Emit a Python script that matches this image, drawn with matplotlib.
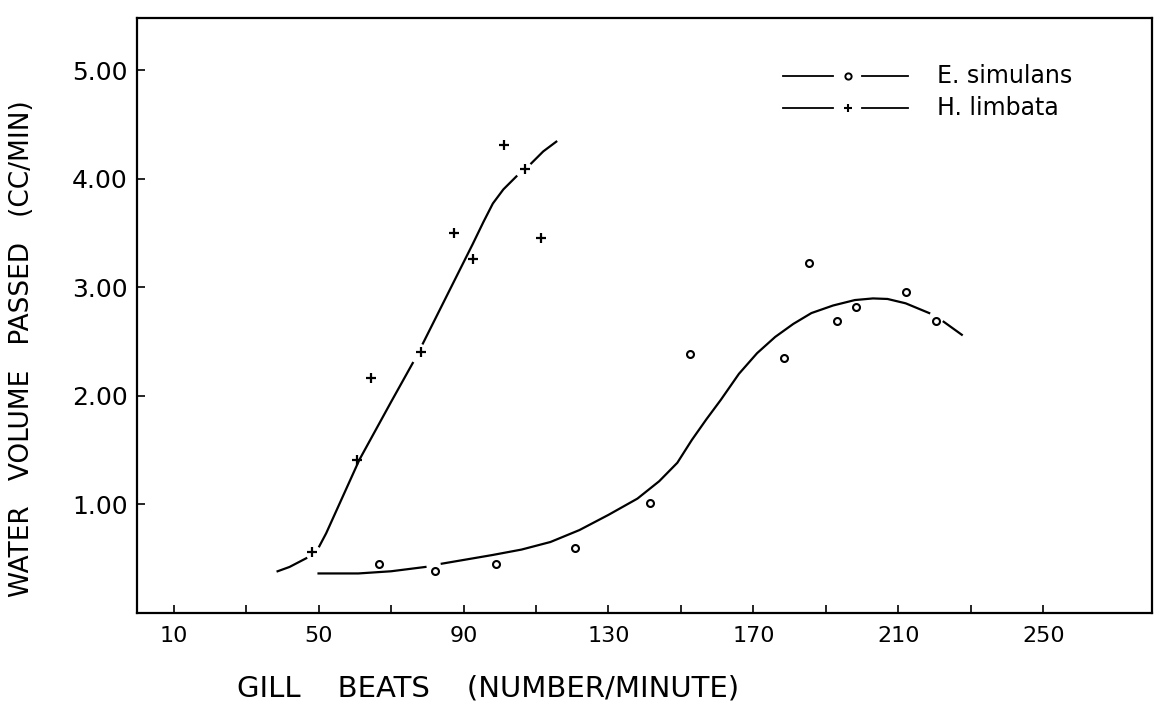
import matplotlib
matplotlib.use("Agg")
import matplotlib.pyplot as plt
import numpy as np

nan = np.nan

# E. simulans observations
e_x = [66.6, 82.2, 99.0, 120.9, 141.4, 152.5, 178.5, 185.4, 193.1, 198.3, 212.1, 220.3]
e_y = [0.45, 0.38, 0.45, 0.59, 1.01, 2.38, 2.35, 3.22, 2.69, 2.82, 2.95, 2.69]

# H. limbata observations
h_x = [48.3, 60.5, 64.6, 78.4, 87.5, 92.5, 101.1, 106.9, 111.3]
h_y = [0.56, 1.41, 2.16, 2.40, 3.50, 3.26, 4.31, 4.09, 3.45]

# hand-fitted curves (nan = break in the drawn line)
e_curve_x = [50, 61, 70, 79.5, nan, 84, 98, 106, 114, 122, 130, 138, 144, 149, 153,
             157, 161, 166, 171, 176, 181, 186, 192, 198, 203, 207, 212, 218.5, nan,
             222.5, 227.5]
e_curve_y = [0.36, 0.36, 0.38, 0.42, nan, 0.45, 0.53, 0.58, 0.65, 0.76, 0.90, 1.05,
             1.21, 1.38, 1.59, 1.78, 1.96, 2.20, 2.39, 2.54, 2.66, 2.76, 2.83, 2.88,
             2.895, 2.89, 2.85, 2.76, nan, 2.68, 2.56]

h_curve_x = [38.7, 42, 46.6, nan, 50.2, 52.1, 61.3, 70, 76.0, nan, 78.8, 86, 92.6,
             95.5, 98.1, 101, 104.6, nan, 108.7, 112, 115.6]
h_curve_y = [0.38, 0.42, 0.50, nan, 0.61, 0.73, 1.41, 1.94, 2.30, nan, 2.48, 2.96,
             3.40, 3.60, 3.77, 3.90, 4.02, nan, 4.14, 4.25, 4.34]

x_ticks = list(range(10, 251, 20))
x_labels = [str(v) if (v - 10) % 40 == 0 else "" for v in x_ticks]
y_ticks = [1, 2, 3, 4, 5]
y_labels = ["1.00", "2.00", "3.00", "4.00", "5.00"]

plt.rcParams["font.family"] = ["DejaVu Sans"]

fig = plt.figure(figsize=(11.61, 7.05), dpi=100)
ax = fig.add_axes([0.1183, 0.1312, 0.874, 0.8433])

ax.plot(e_curve_x, e_curve_y, color="black", lw=1.6, solid_joinstyle="round")
ax.plot(h_curve_x, h_curve_y, color="black", lw=1.6, solid_joinstyle="round")
ax.plot(e_x, e_y, "o", ms=5, mfc="white", mec="black", mew=1.5, ls="none")
ax.plot(h_x, h_y, "+", ms=7, mec="black", mew=1.6, ls="none")

ax.set_xlim(0, 280)
ax.set_ylim(0, 5.48)
ax.set_xticks(x_ticks)
ax.set_xticklabels(x_labels, fontsize=16)
ax.set_yticks(y_ticks)
ax.set_yticklabels(y_labels, fontsize=18)
ax.tick_params(direction="in", length=6, width=1.2, pad=10)
ax.tick_params(axis="y", pad=7)
for s in ax.spines.values():
    s.set_linewidth(1.6)

# legend drawn by hand, like the original
tr = ax.transAxes
for yy, mk, name in [(0.902, "o", "E. simulans"), (0.849, "+", "H. limbata")]:
    ax.plot([0.636, 0.686], [yy, yy], color="black", lw=1.3, transform=tr)
    ax.plot([0.714, 0.759], [yy, yy], color="black", lw=1.3, transform=tr)
    if mk == "o":
        ax.plot([0.700], [yy], "o", ms=4.5, mfc="white", mec="black", mew=1.4, transform=tr)
    else:
        ax.plot([0.700], [yy], "+", ms=6, mec="black", mew=1.5, transform=tr)
    ax.text(0.788, yy, name, transform=tr, fontsize=17, va="center", ha="left")

fig.text(0.42, 0.024, "GILL    BEATS    (NUMBER/MINUTE)", fontsize=21,
         ha="center", va="center")
fig.text(0.019, 0.506, "WATER   VOLUME   PASSED   (CC/MIN)", fontsize=19,
         ha="center", va="center", rotation=90)

fig.savefig("out.png", dpi=100)
